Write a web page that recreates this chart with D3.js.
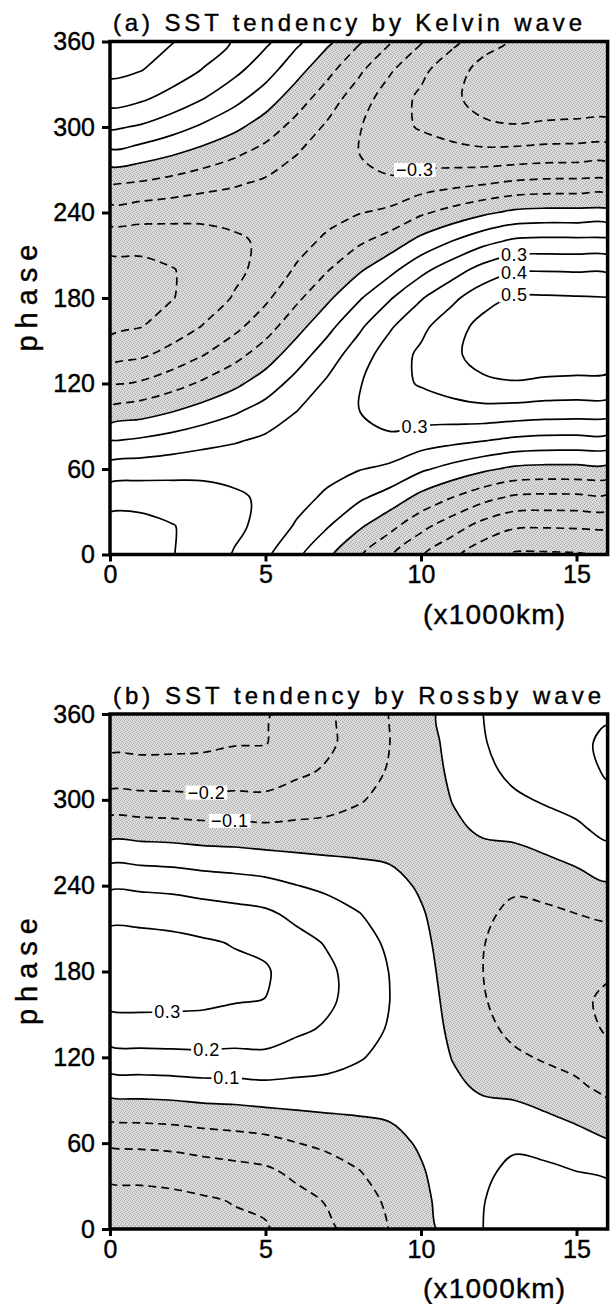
<!DOCTYPE html>
<html>
<head>
<meta charset="utf-8">
<script src="https://cdnjs.cloudflare.com/ajax/libs/d3/7.8.5/d3.min.js"></script>
<style>
  body { margin: 0; background: #fff; }
  svg { display: block; font-family: "Liberation Sans", Arial, sans-serif; }
</style>
</head>
<body>
<svg id="fig" width="611" height="1304"></svg>
<script>
// grid the fields are sampled on (x in 1000 km, phase in degrees; 360 repeats 0)
const xGrid = [0, 1, 2, 3, 4, 5, 6, 7, 8, 9, 10, 11, 12, 13, 14, 15, 16];
const phaseGrid = [0, 20, 40, 60, 80, 100, 120, 140, 160, 180, 200, 220, 240, 260, 280, 300, 320, 340];
const xTicks = [0, 5, 10, 15];
const phaseTicks = [0, 60, 120, 180, 240, 300, 360];

// (a) Kelvin wave: one column per x, values along phaseGrid
const kelvinCols = [
  [0.460, 0.437, 0.362, 0.244, 0.096, -0.064, -0.216, -0.342, -0.426, -0.460, -0.437, -0.362, -0.244, -0.096, 0.064, 0.216, 0.342, 0.426],
  [0.443, 0.430, 0.365, 0.255, 0.115, -0.039, -0.188, -0.315, -0.403, -0.443, -0.430, -0.365, -0.255, -0.115, 0.039, 0.188, 0.315, 0.403],
  [0.404, 0.404, 0.355, 0.264, 0.140, 0.000, -0.140, -0.264, -0.355, -0.404, -0.404, -0.355, -0.264, -0.140, 0.000, 0.140, 0.264, 0.355],
  [0.354, 0.369, 0.341, 0.271, 0.168, 0.045, -0.083, -0.202, -0.295, -0.354, -0.369, -0.341, -0.271, -0.168, -0.045, 0.083, 0.202, 0.295],
  [0.292, 0.323, 0.315, 0.269, 0.191, 0.090, -0.023, -0.132, -0.226, -0.292, -0.323, -0.315, -0.269, -0.191, -0.090, 0.023, 0.132, 0.226],
  [0.218, 0.268, 0.285, 0.268, 0.218, 0.143, 0.049, -0.049, -0.143, -0.218, -0.268, -0.285, -0.268, -0.218, -0.143, -0.049, 0.049, 0.143],
  [0.120, 0.189, 0.236, 0.255, 0.243, 0.201, 0.135, 0.053, -0.035, -0.120, -0.189, -0.236, -0.255, -0.243, -0.201, -0.135, -0.053, 0.035],
  [0.018, 0.106, 0.181, 0.234, 0.259, 0.252, 0.216, 0.153, 0.072, -0.018, -0.106, -0.181, -0.234, -0.259, -0.252, -0.216, -0.153, -0.072],
  [-0.088, 0.016, 0.117, 0.205, 0.267, 0.298, 0.292, 0.252, 0.181, 0.088, -0.016, -0.117, -0.205, -0.267, -0.298, -0.292, -0.252, -0.181],
  [-0.191, -0.071, 0.058, 0.179, 0.279, 0.345, 0.370, 0.350, 0.288, 0.191, 0.071, -0.058, -0.179, -0.279, -0.345, -0.370, -0.350, -0.288],
  [-0.292, -0.171, -0.029, 0.116, 0.247, 0.348, 0.408, 0.418, 0.377, 0.292, 0.171, 0.029, -0.116, -0.247, -0.348, -0.408, -0.418, -0.377],
  [-0.378, -0.254, -0.100, 0.067, 0.225, 0.357, 0.445, 0.480, 0.457, 0.378, 0.254, 0.100, -0.067, -0.225, -0.357, -0.445, -0.480, -0.457],
  [-0.462, -0.336, -0.168, 0.019, 0.204, 0.365, 0.481, 0.540, 0.533, 0.462, 0.336, 0.168, -0.019, -0.204, -0.365, -0.481, -0.540, -0.533],
  [-0.512, -0.388, -0.217, -0.020, 0.179, 0.357, 0.492, 0.567, 0.574, 0.512, 0.388, 0.217, 0.020, -0.179, -0.357, -0.492, -0.567, -0.574],
  [-0.512, -0.392, -0.225, -0.030, 0.168, 0.346, 0.482, 0.560, 0.571, 0.512, 0.392, 0.225, 0.030, -0.168, -0.346, -0.482, -0.560, -0.571],
  [-0.508, -0.389, -0.223, -0.030, 0.167, 0.343, 0.478, 0.555, 0.566, 0.508, 0.389, 0.223, 0.030, -0.167, -0.343, -0.478, -0.555, -0.566],
  [-0.503, -0.385, -0.221, -0.030, 0.165, 0.340, 0.474, 0.551, 0.561, 0.503, 0.385, 0.221, 0.030, -0.165, -0.340, -0.474, -0.551, -0.561]
];

// (b) Rossby wave
const rossbyCols = [
  [-0.350, -0.333, -0.276, -0.185, -0.073, 0.049, 0.164, 0.260, 0.325, 0.350, 0.333, 0.276, 0.185, 0.073, -0.049, -0.164, -0.260, -0.325],
  [-0.350, -0.331, -0.272, -0.180, -0.067, 0.055, 0.170, 0.264, 0.327, 0.350, 0.331, 0.272, 0.180, 0.067, -0.055, -0.170, -0.264, -0.327],
  [-0.345, -0.324, -0.264, -0.173, -0.060, 0.060, 0.173, 0.264, 0.324, 0.345, 0.324, 0.264, 0.173, 0.060, -0.060, -0.173, -0.264, -0.324],
  [-0.335, -0.311, -0.249, -0.157, -0.047, 0.070, 0.178, 0.264, 0.319, 0.335, 0.311, 0.249, 0.157, 0.047, -0.070, -0.178, -0.264, -0.319],
  [-0.320, -0.295, -0.234, -0.145, -0.039, 0.072, 0.174, 0.256, 0.306, 0.320, 0.295, 0.234, 0.145, 0.039, -0.072, -0.174, -0.256, -0.306],
  [-0.309, -0.281, -0.219, -0.131, -0.027, 0.080, 0.178, 0.254, 0.299, 0.309, 0.281, 0.219, 0.131, 0.027, -0.080, -0.178, -0.254, -0.304],
  [-0.258, -0.232, -0.177, -0.102, -0.014, 0.076, 0.156, 0.218, 0.253, 0.258, 0.232, 0.177, 0.102, 0.014, -0.076, -0.156, -0.218, -0.253],
  [-0.217, -0.192, -0.144, -0.079, -0.004, 0.072, 0.138, 0.189, 0.216, 0.217, 0.192, 0.144, 0.079, 0.004, -0.072, -0.138, -0.189, -0.216],
  [-0.162, -0.141, -0.104, -0.054, 0.003, 0.059, 0.108, 0.144, 0.163, 0.162, 0.141, 0.104, 0.054, -0.003, -0.059, -0.108, -0.144, -0.163],
  [-0.097, -0.082, -0.057, -0.026, 0.009, 0.042, 0.071, 0.091, 0.100, 0.097, 0.082, 0.057, 0.026, -0.009, -0.042, -0.071, -0.091, -0.100],
  [-0.038, -0.024, -0.008, 0.010, 0.026, 0.039, 0.047, 0.050, 0.047, 0.038, 0.024, 0.008, -0.010, -0.026, -0.039, -0.047, -0.050, -0.047],
  [0.040, 0.045, 0.044, 0.038, 0.028, 0.014, -0.002, -0.017, -0.030, -0.040, -0.045, -0.044, -0.038, -0.028, -0.014, 0.002, 0.017, 0.030],
  [0.100, 0.096, 0.080, 0.054, 0.023, -0.012, -0.045, -0.073, -0.092, -0.100, -0.096, -0.080, -0.054, -0.023, 0.012, 0.045, 0.073, 0.092],
  [0.165, 0.155, 0.126, 0.083, 0.029, -0.029, -0.083, -0.126, -0.155, -0.165, -0.155, -0.126, -0.083, -0.029, 0.029, 0.083, 0.126, 0.155],
  [0.178, 0.159, 0.120, 0.067, 0.006, -0.056, -0.111, -0.153, -0.176, -0.178, -0.159, -0.120, -0.067, -0.006, 0.056, 0.111, 0.153, 0.176],
  [0.177, 0.148, 0.101, 0.042, -0.023, -0.084, -0.135, -0.170, -0.185, -0.177, -0.148, -0.101, -0.042, 0.023, 0.084, 0.135, 0.170, 0.185],
  [0.192, 0.147, 0.084, 0.011, -0.063, -0.129, -0.180, -0.209, -0.213, -0.192, -0.147, -0.084, -0.011, 0.063, 0.129, 0.180, 0.209, 0.213]
];

const kelvinLevels = [-0.5, -0.4, -0.3, -0.2, -0.1, 0, 0.1, 0.2, 0.3, 0.4, 0.5];
const rossbyLevels = [-0.3, -0.2, -0.1, 0, 0.1, 0.2, 0.3];

const kelvinLabels = [
  {text: "\u22120.3", level: -0.3, x: 9.8, phase: 270},
  {text: "0.3", level: 0.3, x: 13.0, phase: 215},
  {text: "0.4", level: 0.4, x: 13.0, phase: 201},
  {text: "0.5", level: 0.5, x: 13.0, phase: 187},
  {text: "0.3", level: 0.3, x: 9.8, phase: 90}
];
const rossbyLabels = [
  {text: "\u22120.2", level: -0.2, x: 3.1, phase: 302},
  {text: "\u22120.1", level: -0.1, x: 3.85, phase: 284},
  {text: "0.3", level: 0.3, x: 1.85, phase: 147},
  {text: "0.2", level: 0.2, x: 3.1, phase: 124},
  {text: "0.1", level: 0.1, x: 3.75, phase: 106}
];

const panels = [
  {title: "(a) SST tendency by Kelvin wave", titleLen: 469, cols: kelvinCols, levels: kelvinLevels, labels: kelvinLabels, top: 41.5, bottom: 554.5},
  {title: "(b) SST tendency by Rossby wave", titleLen: 488, cols: rossbyCols, levels: rossbyLevels, labels: rossbyLabels, top: 714, bottom: 1229}
];

const svg = d3.select("#fig");
const left = 110, right = 607.6;
const xs = d3.scaleLinear().domain([0, 16]).range([left, right]);

const defs = svg.append("defs");
const pat = defs.append("pattern").attr("id", "stip")
    .attr("width", 4).attr("height", 4).attr("patternUnits", "userSpaceOnUse");
pat.append("rect").attr("width", 4).attr("height", 4).attr("fill", "#dadada");
[[0, 0], [2, 1], [1, 3], [3, 2]].forEach(([px, py]) =>
  pat.append("rect").attr("x", px).attr("y", py).attr("width", 1).attr("height", 1).attr("fill", "#ababab"));

const nPh = phaseGrid.length, dPh = phaseGrid[1] - phaseGrid[0], dX = xGrid[1] - xGrid[0];

function valueAt(cols, x, p) {
  const i0 = Math.min(Math.floor(x / dX), cols.length - 2), tx = x / dX - i0;
  const jf = (((p % 360) + 360) % 360) / dPh, j0 = Math.floor(jf), ty = jf - j0;
  const a = cols[i0][j0 % nPh], b = cols[i0][(j0 + 1) % nPh];
  const c = cols[i0 + 1][j0 % nPh], d = cols[i0 + 1][(j0 + 1) % nPh];
  return (1 - tx) * ((1 - ty) * a + ty * b) + tx * ((1 - ty) * c + ty * d);
}

// put a label on its contour, near the position
function snapPhase(cols, lab) {
  let best = lab.phase, err = Infinity;
  for (let p = lab.phase - 6; p <= lab.phase + 6; p += 0.25) {
    const e = Math.abs(valueAt(cols, lab.x, p) - lab.level);
    if (e < err) { err = e; best = p; }
  }
  return best;
}

const ringLine = d3.line().curve(d3.curveCatmullRomClosed.alpha(0.5));

panels.forEach((pn, k) => {
  const ys = d3.scaleLinear().domain([0, 360]).range([pn.bottom, pn.top]);
  const nx = xGrid.length, ny = nPh + 1;
  const values = new Array(nx * ny);
  for (let j = 0; j < ny; j++)
    for (let i = 0; i < nx; i++) values[j * nx + i] = pn.cols[i][j % nPh];

  const contours = d3.contours().size([nx, ny]).thresholds(pn.levels)(values);

  // contour rings -> smooth pixel paths
  const toPx = ([cx, cy]) => [xs((cx - 0.5) * dX), ys((cy - 0.5) * dPh)];
  const smoothPath = mp => mp.coordinates.flatMap(poly => poly.map(ring => {
    const pts = ring.slice(0, -1).map(toPx);
    return ringLine(pts);
  })).join("");

  const clipId = "clip" + k;
  defs.append("clipPath").attr("id", clipId).append("rect")
      .attr("x", left).attr("y", pn.top).attr("width", right - left).attr("height", pn.bottom - pn.top);

  const g = svg.append("g");
  const plot = g.append("g").attr("clip-path", `url(#${clipId})`);

  plot.append("rect").attr("x", left).attr("y", pn.top)
      .attr("width", right - left).attr("height", pn.bottom - pn.top).attr("fill", "url(#stip)");
  plot.append("path").attr("d", smoothPath(contours.find(c => c.value === 0)))
      .attr("fill", "#fff").attr("fill-rule", "evenodd").attr("stroke", "none");

  plot.selectAll("path.iso").data(contours).join("path")
      .attr("class", "iso")
      .attr("d", smoothPath)
      .attr("fill", "none")
      .attr("stroke", "#000")
      .attr("stroke-width", 1.7)
      .attr("stroke-linejoin", "round")
      .attr("stroke-dasharray", d => d.value < 0 ? "8,5" : null);

  const lg = plot.selectAll("g.lab").data(pn.labels).join("g").attr("class", "lab")
      .attr("transform", d => `translate(${xs(d.x)},${ys(snapPhase(pn.cols, d))})`);
  lg.append("rect").attr("fill", "#fff");
  lg.append("text").text(d => d.text)
      .attr("text-anchor", "middle").attr("dy", "0.35em")
      .attr("font-size", 18).attr("letter-spacing", 0.5);
  lg.each(function () {
    const bb = d3.select(this).select("text").node().getBBox();
    d3.select(this).select("rect")
      .attr("x", bb.x - 2).attr("y", bb.y + 3).attr("width", bb.width + 4).attr("height", bb.height - 6);
  });

  // frame
  g.append("rect").attr("x", left).attr("y", pn.top)
      .attr("width", right - left).attr("height", pn.bottom - pn.top)
      .attr("fill", "none").attr("stroke", "#000").attr("stroke-width", 3.5);

  const gx = g.append("g").attr("transform", `translate(0,${pn.bottom})`)
      .call(d3.axisBottom(xs).tickValues(xTicks).tickSize(7).tickPadding(4));
  const gy = g.append("g").attr("transform", `translate(${left},0)`)
      .call(d3.axisLeft(ys).tickValues(phaseTicks).tickSize(8).tickPadding(7));
  [gx, gy].forEach(ax => {
    ax.attr("font-family", null).attr("font-size", null);
    ax.select(".domain").remove();
    ax.selectAll(".tick line").attr("stroke", "#000").attr("stroke-width", 3);
    ax.selectAll(".tick text").attr("fill", "#000").attr("font-size", 25)
      .attr("stroke", "#000").attr("stroke-width", 0.4);
  });

  g.append("text").attr("x", 113).attr("y", pn.top - 10.5)
      .attr("font-size", 24).attr("textLength", pn.titleLen).attr("lengthAdjust", "spacing")
      .attr("stroke", "#000").attr("stroke-width", 0.4)
      .text(pn.title);

  const mid = (pn.top + pn.bottom) / 2;
  g.append("text").attr("transform", `translate(37,${mid}) rotate(-90)`)
      .attr("text-anchor", "middle").attr("font-size", 29)
      .attr("textLength", 107).attr("lengthAdjust", "spacing")
      .attr("stroke", "#000").attr("stroke-width", 0.4)
      .text("phase");

  g.append("text").attr("x", 423).attr("y", pn.bottom + 69)
      .attr("font-size", 28).attr("textLength", 142).attr("lengthAdjust", "spacing")
      .attr("stroke", "#000").attr("stroke-width", 0.4)
      .text("(x1000km)");
});
</script>
</body>
</html>
